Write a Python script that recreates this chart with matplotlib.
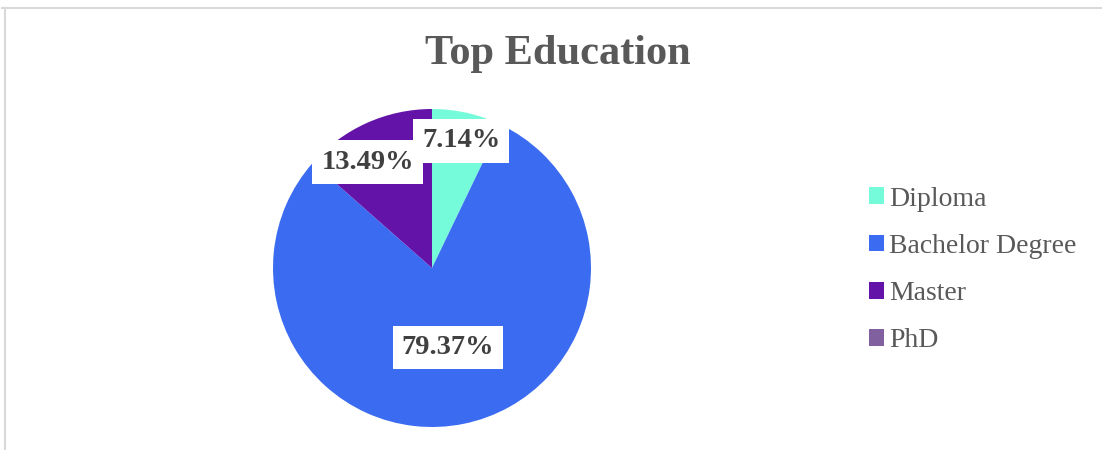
import numpy as np
import matplotlib
matplotlib.use("Agg")
import matplotlib.pyplot as plt
from matplotlib.patches import Patch
from matplotlib.lines import Line2D

categories = ["Diploma", "Bachelor Degree", "Master", "PhD"]
counts = [9, 100, 17, 0]
colors = ["#75FBD9", "#3B6BF0", "#6413A8", "#80609F"]
title = "Top Education"

# label placement (layout): radial distance and angular shift per slice
label_dist = [0.82, 0.51, 0.78, 0.8]
label_shift = [0.0, 0.0, 7.0, 0.0]

plt.rcParams['font.family'] = ['Liberation Serif', 'DejaVu Serif']

W, H = 1102, 450
fig = plt.figure(figsize=(W / 100, H / 100), dpi=100)
fig.patch.set_facecolor("white")

cx, cy, r = 432, 268, 159
ax = fig.add_axes([(cx - r) / W, (H - cy - r) / H, 2 * r / W, 2 * r / H])
wedges, _ = ax.pie(counts, colors=colors, startangle=90, counterclock=False,
                   radius=1, wedgeprops=dict(linewidth=0))
ax.set_xlim(-1, 1)
ax.set_ylim(-1, 1)
ax.axis("off")

total = sum(counts)
for w, c, d, s in zip(wedges, counts, label_dist, label_shift):
    if c == 0:
        continue
    ang = np.deg2rad((w.theta1 + w.theta2) / 2 + s)
    ax.text(d * np.cos(ang), d * np.sin(ang), f"{100 * c / total:.2f}%",
            ha="center", va="center", fontsize=20.5, fontweight="bold",
            color="#404040",
            bbox=dict(boxstyle="square,pad=0.32", facecolor="white", edgecolor="none"))

fig.text(558 / W, 1 - 54 / H, title, ha="center", va="center", fontsize=30.5,
         fontweight="bold", color="#595959")

handles = [Patch(facecolor=col, edgecolor="none") for col in colors]
leg = fig.legend(handles, categories, loc="center left",
                 bbox_to_anchor=(869 / W, (H - 270) / H), frameon=False,
                 fontsize=20, handlelength=0.55, handleheight=0.55,
                 handletextpad=0.18, labelspacing=0.80, borderpad=0,
                 borderaxespad=0)
for t in leg.get_texts():
    t.set_color("#595959")

# chart border (top and left visible)
fig.add_artist(Line2D([2 / W, 1], [1 - 7.5 / H, 1 - 7.5 / H], color="#d9d9d9",
                      linewidth=1.5, transform=fig.transFigure))
fig.add_artist(Line2D([5 / W, 5 / W], [0, 1 - 7.5 / H], color="#d9d9d9",
                      linewidth=1.5, transform=fig.transFigure))

fig.savefig("out.png", dpi=100, facecolor="white")
